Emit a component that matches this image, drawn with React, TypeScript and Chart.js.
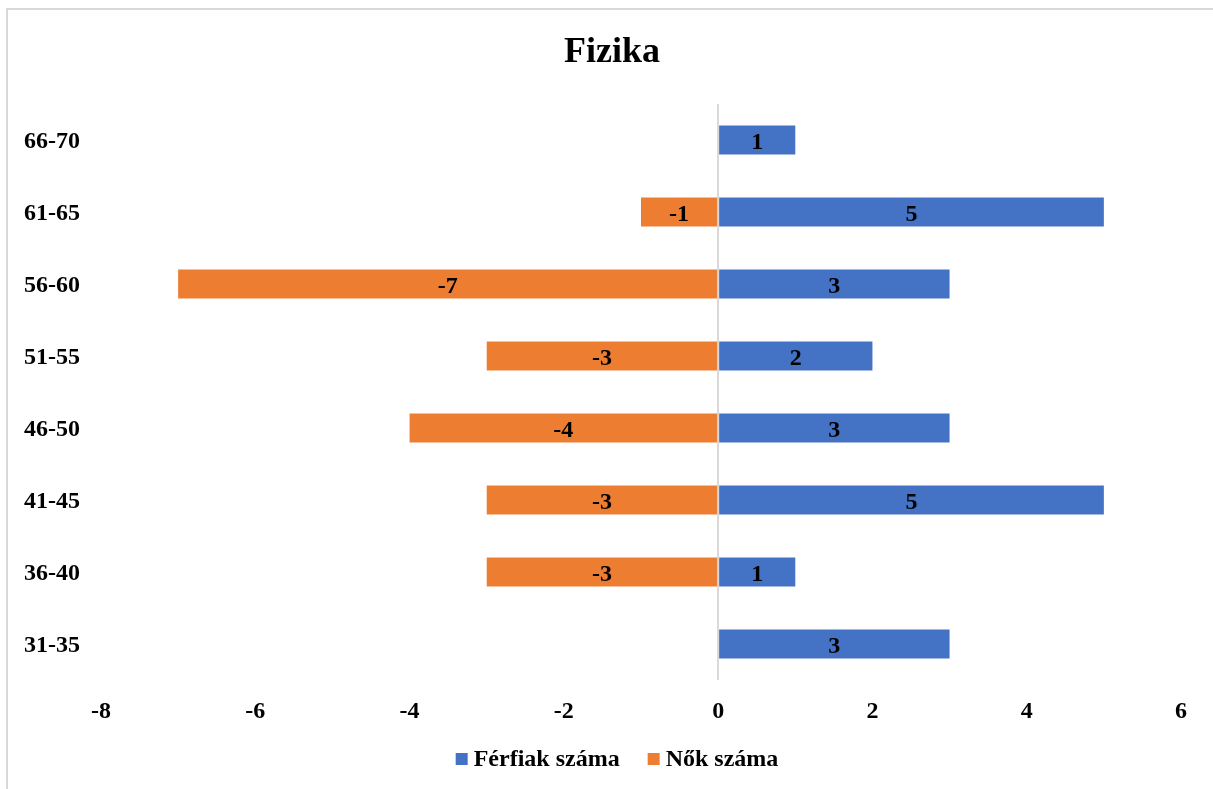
import React, { useEffect, useRef } from 'react';
import { Chart, registerables } from 'chart.js';

Chart.register(...registerables);

const categories = ['66-70', '61-65', '56-60', '51-55', '46-50', '41-45', '36-40', '31-35'];
const ferfiak = [1, 5, 3, 2, 3, 5, 1, 3];
const nok: (number | null)[] = [null, -1, -7, -3, -4, -3, -3, null];
const xMin = -8;
const xMax = 6;
const xStep = 2;
const seriesNames = ['Férfiak száma', 'Nők száma'];
const seriesColors = ['#4472C4', '#ED7D31'];
const titleText = 'Fizika';

const FONT = '"Liberation Serif", "Times New Roman", Times, serif';

const overlayPlugin = {
  id: 'overlay',
  afterDatasetsDraw(chart: any) {
    const ctx = chart.ctx;
    ctx.save();
    ctx.fillStyle = '#000';
    ctx.textAlign = 'center';
    ctx.textBaseline = 'middle';
    ctx.font = `bold 24px ${FONT}`;
    chart.data.datasets.forEach((ds: any, i: number) => {
      const meta = chart.getDatasetMeta(i);
      meta.data.forEach((el: any, j: number) => {
        const v = ds.data[j];
        if (v == null) return;
        const p = el.getProps(['x', 'y', 'base'], true);
        ctx.fillText(String(v), (p.x + p.base) / 2, p.y + 2.5);
      });
    });

    // title
    ctx.font = `bold 36px ${FONT}`;
    ctx.fillText(titleText, 612, 53);

    // legend
    ctx.font = `bold 24px ${FONT}`;
    const box = 12;
    const gapText = 6;
    const gapItem = 28;
    const widths = seriesNames.map((n) => ctx.measureText(n).width);
    const total = widths.reduce((a, w) => a + box + gapText + w, 0) + gapItem * (seriesNames.length - 1);
    let x = 617 - total / 2;
    const cy = 759;
    ctx.textAlign = 'left';
    seriesNames.forEach((n, i) => {
      ctx.fillStyle = seriesColors[i];
      ctx.fillRect(x, cy - box / 2, box, box);
      x += box + gapText;
      ctx.fillStyle = '#000';
      ctx.fillText(n, x, cy + 1);
      x += widths[i] + gapItem;
    });
    ctx.restore();
  },
};

export default function App() {
  const ref = useRef<HTMLCanvasElement | null>(null);

  useEffect(() => {
    if (!ref.current) return;
    const chart = new Chart(ref.current, {
      type: 'bar',
      data: {
        labels: categories,
        datasets: [
          {
            label: seriesNames[0],
            data: ferfiak,
            backgroundColor: seriesColors[0],
            borderWidth: 0,
            barPercentage: 29 / 72,
            categoryPercentage: 1,
          },
          {
            label: seriesNames[1],
            data: nok,
            backgroundColor: seriesColors[1],
            borderWidth: 0,
            barPercentage: 29 / 72,
            categoryPercentage: 1,
          },
        ],
      },
      options: {
        indexAxis: 'y',
        responsive: false,
        animation: false,
        layout: { padding: { left: 24, right: 32, top: 104, bottom: 0 } },
        plugins: {
          legend: { display: false },
          title: { display: false },
          tooltip: { enabled: false },
        },
        scales: {
          x: {
            type: 'linear',
            stacked: true,
            min: xMin,
            max: xMax,
            ticks: {
              stepSize: xStep,
              padding: 17,
              color: '#000',
              font: { family: FONT, size: 24, weight: 'bold' },
            },
            grid: {
              drawTicks: false,
              lineWidth: 2,
              color: (c: any) => (c.tick && c.tick.value === 0 ? '#d9d9d9' : 'rgba(0,0,0,0)'),
            },
            border: { display: false },
            afterFit: (scale: any) => {
              scale.height = 57 + 52;
            },
          },
          y: {
            type: 'category',
            stacked: true,
            ticks: {
              crossAlign: 'far',
              labelOffset: 2,
              color: '#000',
              font: { family: FONT, size: 24, weight: 'bold' },
            },
            grid: { display: false },
            border: { display: false },
            afterFit: (scale: any) => {
              scale.width = 77;
            },
          },
        },
      } as any,
      plugins: [overlayPlugin],
    });
    return () => chart.destroy();
  }, []);

  return (
    <div
      style={{
        position: 'fixed',
        left: 0,
        top: 0,
        width: 1213,
        height: 789,
        overflow: 'hidden',
        background: '#fff',
      }}
    >
      <div
        style={{
          position: 'absolute',
          left: 6,
          top: 8,
          width: 1230,
          height: 800,
          border: '2px solid #d9d9d9',
          boxSizing: 'border-box',
        }}
      />
      <canvas
        ref={ref}
        width={1213}
        height={789}
        style={{ position: 'absolute', left: 0, top: 0, width: 1213, height: 789 }}
      />
    </div>
  );
}
